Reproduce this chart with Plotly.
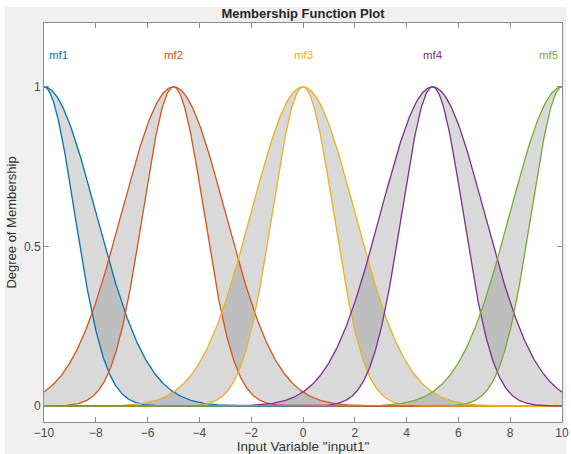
import numpy as np
import plotly.graph_objects as go

# Membership function parameters (type-2 Gaussian MFs)
mf_names = ["mf1", "mf2", "mf3", "mf4", "mf5"]
mf_centers = [-10, -5, 0, 5, 10]
upper_sigmas = [2.0, 2.0, 2.0, 2.0, 2.0]
lower_sigmas = [1.18, 1.18, 1.18, 1.18, 1.18]
mf_colors = ["#0072BD", "#D95319", "#EDB120", "#7E2F8E", "#77AC30"]
label_x = [-9.45, -5, 0, 5, 9.48]
label_y = [1.1, 1.1, 1.1, 1.1, 1.1]
x_ticks = [-10, -8, -6, -4, -2, 0, 2, 4, 6, 8, 10]
y_ticks = [0, 0.5, 1]
y_ticktext = ["0", "0.5", "1"]

x = np.linspace(-10, 10, 801)


def gaussmf(xv, sigma, c):
    return np.exp(-((xv - c) ** 2) / (2 * sigma ** 2))


fig = go.Figure()

# shaded footprints of uncertainty
for c, su, sl in zip(mf_centers, upper_sigmas, lower_sigmas):
    up = gaussmf(x, su, c)
    lo = gaussmf(x, sl, c)
    fig.add_trace(go.Scatter(
        x=np.concatenate([x, x[::-1]]),
        y=np.concatenate([up, lo[::-1]]),
        fill="toself", fillcolor="rgba(128,128,128,0.3)",
        line=dict(width=0), mode="lines", hoverinfo="skip", showlegend=False))

# upper and lower MF lines
for c, su, sl, col in zip(mf_centers, upper_sigmas, lower_sigmas, mf_colors):
    for s in (su, sl):
        fig.add_trace(go.Scatter(
            x=x, y=gaussmf(x, s, c), mode="lines",
            line=dict(color=col, width=1.3), showlegend=False))

# MF labels
for name, lx, ly, col in zip(mf_names, label_x, label_y, mf_colors):
    fig.add_annotation(x=lx, y=ly, text=name, showarrow=False,
                       font=dict(color=col, size=11.5, family="Liberation Sans"),
                       xanchor="center", yanchor="middle")

# figure gray panel and white axes area
fig.add_shape(type="rect", xref="paper", yref="paper",
              x0=-0.0753, x1=1.0077, y0=-0.1, y1=1.040,
              fillcolor="#f0f0f0", line=dict(width=0), layer="below")
fig.add_shape(type="rect", xref="paper", yref="paper",
              x0=0, x1=1, y0=0, y1=1,
              fillcolor="white", line=dict(width=0), layer="below")

axis_common = dict(showline=True, linecolor="#8c8c8c", linewidth=1, mirror="ticks",
                   ticks="inside", ticklen=5, tickcolor="#8c8c8c", tickwidth=1,
                   showgrid=False, zeroline=False, automargin=False,
                   tickfont=dict(family="Liberation Sans", size=12, color="#4a4a4a"))

fig.update_xaxes(range=[-10, 10], tickvals=x_ticks,
                 title=dict(text='Input Variable "input1"', standoff=0,
                            font=dict(family="Liberation Sans", size=13.5, color="#333333")),
                 **axis_common)
fig.update_yaxes(range=[-0.05, 1.2], tickvals=y_ticks, ticktext=y_ticktext,
                 title=dict(text="Degree of Membership", standoff=4,
                            font=dict(family="Liberation Sans", size=13, color="#333333")),
                 **axis_common)

fig.update_layout(
    width=571, height=454, autosize=False,
    margin=dict(l=44, r=9, t=23, b=32),
    paper_bgcolor="white", plot_bgcolor="white",
    title=dict(text="<b>Membership Function Plot</b>", xref="paper", x=0.5,
               xanchor="center", yref="container",
               y=1 - 13 / 454, yanchor="middle",
               font=dict(family="Liberation Sans", size=13, color="#262626")),
    showlegend=False,
)

fig.write_html("out.html", config={"displayModeBar": False},
               post_script="document.body.style.margin='0';document.body.style.padding='0';"
                           "document.body.style.overflow='hidden';")
